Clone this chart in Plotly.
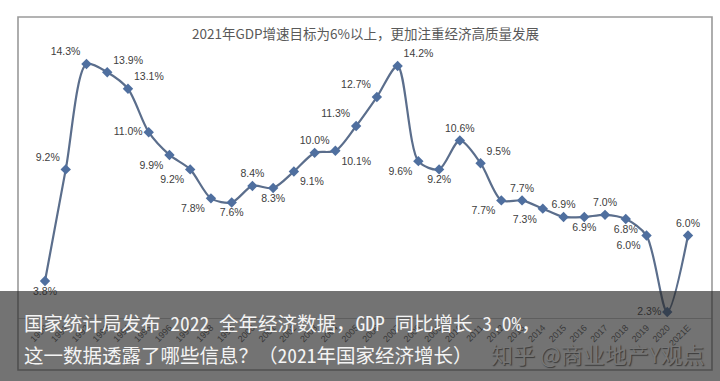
import plotly.graph_objects as go

years = ["1990", "1991", "1992", "1993", "1994", "1995", "1996", "1997", "1998", "1999",
         "2000", "2001", "2002", "2003", "2004", "2005", "2006", "2007", "2008", "2009",
         "2010", "2011", "2012", "2013", "2014", "2015", "2016", "2017", "2018", "2019",
         "2020", "2021E"]
gdp_growth = [3.8, 9.2, 14.3, 13.9, 13.1, 11.0, 9.9, 9.2, 7.8, 7.6,
              8.4, 8.3, 9.1, 10.0, 10.1, 11.3, 12.7, 14.2, 9.6, 9.2,
              10.6, 9.5, 7.7, 7.7, 7.3, 6.9, 6.9, 7.0, 6.8, 6.0,
              2.3, 6.0]
label_pos = ["bottom center", "top left", "top left", "top right", "top right", "middle left",
             "bottom left", "bottom left", "bottom left", "bottom center",
             "top center", "bottom center", "bottom right", "top center", "bottom right",
             "top left", "top left", "top right", "bottom left", "bottom center",
             "top center", "top right", "bottom left", "top center", "bottom left",
             "top center", "bottom center", "top center", "bottom center", "bottom left",
             "middle left", "top center"]

chart_title = "2021年GDP增速目标为6%以上，更加注重经济高质量发展"
caption_1 = "国家统计局发布 2022 全年经济数据，GDP 同比增长 3.0%，"
caption_2 = "这一数据透露了哪些信息？（2021年国家经济增长）"
watermark = "知乎 @商业地产Y观点"

W, H = 720, 381
x_idx = list(range(len(years)))

fig = go.Figure()
fig.add_trace(go.Scatter(
    x=x_idx, y=gdp_growth,
    mode="lines+markers+text",
    line=dict(color="#5b6e8c", width=2.2, shape="spline", smoothing=0.8),
    marker=dict(symbol="diamond", size=8, color="#4f6f9f"),
    text=[f"{v:.1f}%" for v in gdp_growth],
    textposition=label_pos,
    textfont=dict(family="Liberation Sans, Arial, sans-serif", size=10.5, color="#404040"),
    cliponaxis=False,
    showlegend=False,
    hoverinfo="skip",
))

# pixel geometry
px_per_idx = (688 - 45) / 31
x0 = -(45 - 18) / px_per_idx
x1 = 31 + (712 - 688) / px_per_idx
px_per_unit = (312 - 64) / (14.3 - 2.3)
y_bottom = 14.3 - (318 - 64) / px_per_unit
y_top = 14.3 + (64 - 17) / px_per_unit

fig.update_layout(
    width=W, height=H,
    margin=dict(l=0, r=0, t=0, b=0),
    paper_bgcolor="white", plot_bgcolor="rgba(0,0,0,0)",
    xaxis=dict(
        domain=[18 / W, 712 / W],
        range=[x0, x1],
        tickmode="array", tickvals=x_idx, ticktext=years,
        tickangle=-45,
        tickfont=dict(family="Liberation Sans, Arial, sans-serif", size=9, color="#595959"),
        showgrid=False, zeroline=False,
        showline=True, linecolor="#c4c4c4", linewidth=1, ticks="",
    ),
    yaxis=dict(
        domain=[1 - 318 / H, 1 - 17 / H],
        range=[y_bottom, y_top],
        showgrid=False, zeroline=False, showticklabels=False, ticks="", showline=False,
    ),
    shapes=[
        dict(type="rect", xref="paper", yref="paper",
             x0=18 / W, x1=712 / W, y0=1 - 370 / H, y1=1 - 17 / H,
             line=dict(color="#9a9a9a", width=1.6), fillcolor="rgba(0,0,0,0)", layer="above"),
        dict(type="rect", xref="paper", yref="paper",
             x0=0, x1=1, y0=0, y1=1 - 291 / H,
             line=dict(width=0), fillcolor="rgba(40,40,40,0.65)", layer="above"),
    ],
    annotations=[
        dict(text=chart_title, xref="paper", yref="paper",
             x=365 / W, y=1 - 33 / H, xanchor="center", yanchor="middle", showarrow=False,
             font=dict(family="Noto Sans CJK SC", size=13.5, color="#595959")),
        dict(text=watermark, xref="paper", yref="paper",
             x=706 / W, y=1 - 353 / H, xanchor="right", yanchor="middle", showarrow=False,
             font=dict(family="Noto Sans CJK SC", size=22, color="#767676",
                       shadow="1px 1px 1px #3a3a3a")),
        dict(text=caption_1, xref="paper", yref="paper",
             x=22 / W, y=1 - 322 / H, xanchor="left", yanchor="middle", showarrow=False,
             font=dict(family="Noto Sans Mono CJK SC, Noto Sans CJK SC", size=19.5, color="#f4f4f4")),
        dict(text=caption_2, xref="paper", yref="paper",
             x=22 / W, y=1 - 354 / H, xanchor="left", yanchor="middle", showarrow=False,
             font=dict(family="Noto Sans Mono CJK SC, Noto Sans CJK SC", size=19.5, color="#f4f4f4")),
    ],
)

fig.write_html("out.html", config={"displayModeBar": False},
               post_script="document.body.style.margin='0';")
